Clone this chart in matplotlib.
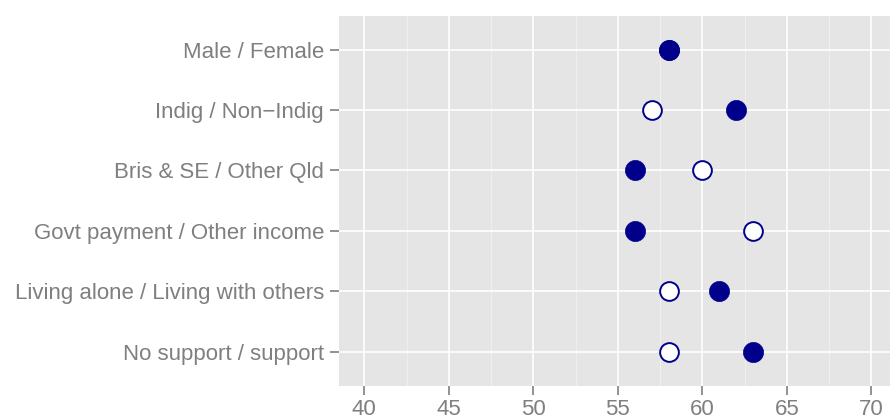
import matplotlib
matplotlib.use("Agg")
import matplotlib.pyplot as plt
import numpy as np

plt.rcParams['font.family'] = ['Liberation Sans', 'DejaVu Sans']

categories = [
    "Male / Female",
    "Indig / Non\u2212Indig",
    "Bris & SE / Other Qld",
    "Govt payment / Other income",
    "Living alone / Living with others",
    "No support / support",
]
first_group = [58, 62, 56, 56, 61, 63]    # filled markers
second_group = [58, 57, 60, 63, 58, 58]   # open markers
x_ticks = [40, 45, 50, 55, 60, 65, 70]

navy = "#00008B"
grey_txt = "#7F7F7F"

fig = plt.figure(figsize=(8.9, 4.17), dpi=100)
ax = fig.add_axes([339 / 890, 1 - 385.7 / 417, 1 - 339 / 890, (385.7 - 15.7) / 417])
ax.set_facecolor("#E5E5E5")

# categories run top to bottom
ypos = np.arange(len(categories))[::-1] + 1

ax.set_xlim(38.5, 71.1)
ax.set_ylim(0.44, 6.56)

# grid
for xm in np.arange(37.5, 72.5, 5):
    ax.axvline(xm, color="#F2F2F2", lw=0.6, zorder=0.5)
for xt in x_ticks:
    ax.axvline(xt, color="white", lw=1.2, zorder=0.6)
for y in ypos:
    ax.axhline(y, color="white", lw=1.2, zorder=0.6)

ax.plot(second_group, ypos, linestyle="none", marker="o", markersize=13.5,
        markerfacecolor="white", markeredgecolor=navy, markeredgewidth=1.4, zorder=3)
ax.plot(first_group, ypos, linestyle="none", marker="o", markersize=14.5,
        markerfacecolor=navy, markeredgecolor=navy, markeredgewidth=0.5, zorder=4)

ax.set_xticks(x_ticks)
ax.set_xticklabels([str(v) for v in x_ticks])
ax.set_yticks(ypos)
ax.set_yticklabels(categories)

ax.tick_params(axis="both", colors=grey_txt, labelcolor=grey_txt, labelsize=16,
               length=6.5, width=1.2)
ax.tick_params(axis="x", pad=3)
ax.tick_params(axis="y", pad=4.3)
for s in ax.spines.values():
    s.set_visible(False)

fig.savefig("out.png", dpi=100, facecolor="white")
